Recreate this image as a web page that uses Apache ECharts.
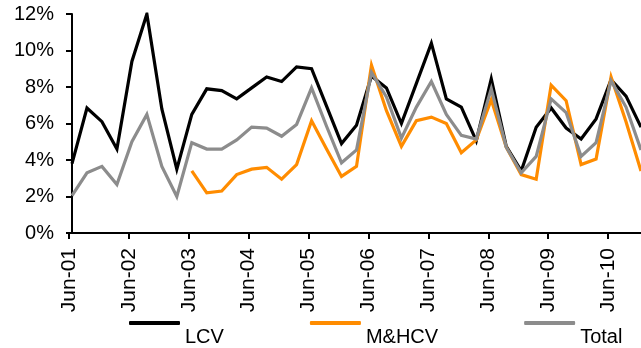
<!DOCTYPE html>
<html>
<head>
<meta charset="utf-8">
<script src="https://cdn.jsdelivr.net/npm/echarts@6/dist/echarts.min.js"></script>
<style>
  html, body { margin: 0; padding: 0; background: #fff; }
  #chart { width: 641px; height: 348px; }
</style>
</head>
<body>
<div id="chart"></div>
<script>
// Year-on-year growth, quarterly from Jun-01 (index 0) onwards, in percent
const tickLabels = ['Jun-01', 'Jun-02', 'Jun-03', 'Jun-04', 'Jun-05',
                    'Jun-06', 'Jun-07', 'Jun-08', 'Jun-09', 'Jun-10'];

const lcv = [3.8, 6.85, 6.1, 4.6, 9.4, 12.0, 6.8, 3.5, 6.5, 7.9,
             7.8, 7.35, 7.95, 8.55, 8.3, 9.1, 9.0, 6.95, 4.9, 5.9,
             8.6, 7.95, 6.0, 8.2, 10.4, 7.35, 6.9, 5.05, 8.45, 4.75,
             3.4, 5.8, 6.85, 5.75, 5.15, 6.25, 8.4, 7.5, 5.8];

const mhcv = [null, null, null, null, null, null, null, null, 3.4, 2.2,
              2.3, 3.2, 3.5, 3.6, 2.95, 3.75, 6.15, 4.6, 3.1, 3.65,
              9.2, 6.7, 4.75, 6.15, 6.35, 6.0, 4.4, 5.1, 7.3, 4.7,
              3.2, 2.95, 8.1, 7.25, 3.75, 4.05, 8.55, 6.1, 3.4];

const total = [2.05, 3.3, 3.65, 2.65, 5.0, 6.5, 3.65, 2.0, 4.95, 4.6,
               4.6, 5.1, 5.8, 5.75, 5.3, 5.95, 7.95, 5.85, 3.85, 4.55,
               8.8, 7.45, 5.2, 6.9, 8.3, 6.5, 5.35, 5.15, 7.9, 4.7,
               3.3, 4.2, 7.35, 6.6, 4.2, 4.95, 8.35, 6.9, 4.55];

const seriesNames = ['LCV', 'M&HCV', 'Total'];
const seriesColors = ['#000000', '#FF8C00', '#8C8C8C'];

// pair each value with its quarter index
const toPoints = arr => arr.map((v, i) => [i, v]);

const FONT = 'Liberation Sans, Arial, sans-serif';

const chart = echarts.init(document.getElementById('chart'), null, { renderer: 'canvas' });

chart.setOption({
  animation: false,
  backgroundColor: '#ffffff',
  grid: { left: 69, right: -1, top: 14, bottom: 115, containLabel: false },
  xAxis: {
    type: 'value',
    min: -0.2,
    max: 38,
    interval: 4,
    splitLine: { show: false },
    axisLine: { show: true, onZero: false, lineStyle: { color: '#000', width: 2 } },
    axisTick: { show: true, length: 6, lineStyle: { color: '#000', width: 2 } },
    axisLabel: {
      rotate: 90,
      margin: 15,
      color: '#000',
      fontSize: 21,
      fontFamily: FONT,
      showMaxLabel: false,
      formatter: v => tickLabels[Math.round((v + 0.2) / 4)] || ''
    }
  },
  yAxis: {
    type: 'value',
    min: 0,
    max: 12,
    interval: 2,
    splitLine: { show: false },
    axisLine: { show: true, lineStyle: { color: '#000', width: 2 } },
    axisTick: { show: true, length: 6, lineStyle: { color: '#000', width: 2 } },
    axisLabel: {
      margin: 15,
      color: '#000',
      fontSize: 20,
      fontFamily: FONT,
      formatter: '{value}%'
    }
  },
  legend: {
    left: 124,
    top: 294,
    itemWidth: 51,
    itemHeight: 4,
    itemGap: 86,
    icon: 'roundRect',
    data: seriesNames,
    // legend text sits below and right of its line sample
    formatter: name => '{t|' + name + '}',
    textStyle: {
      color: '#000',
      fontSize: 20,
      fontFamily: FONT,
      rich: {
        t: {
          color: '#000',
          fontSize: 20,
          fontFamily: FONT,
          lineHeight: 20,
          padding: [28, 0, 0, 0]
        }
      }
    }
  },
  series: [lcv, mhcv, total].map((arr, i) => ({
    name: seriesNames[i],
    type: 'line',
    data: toPoints(arr),
    showSymbol: false,
    symbol: 'none',
    connectNulls: false,
    clip: true,
    color: seriesColors[i],
    lineStyle: { color: seriesColors[i], width: 3.2, join: 'miter' },
    itemStyle: { color: seriesColors[i] }
  }))
});
</script>
</body>
</html>
